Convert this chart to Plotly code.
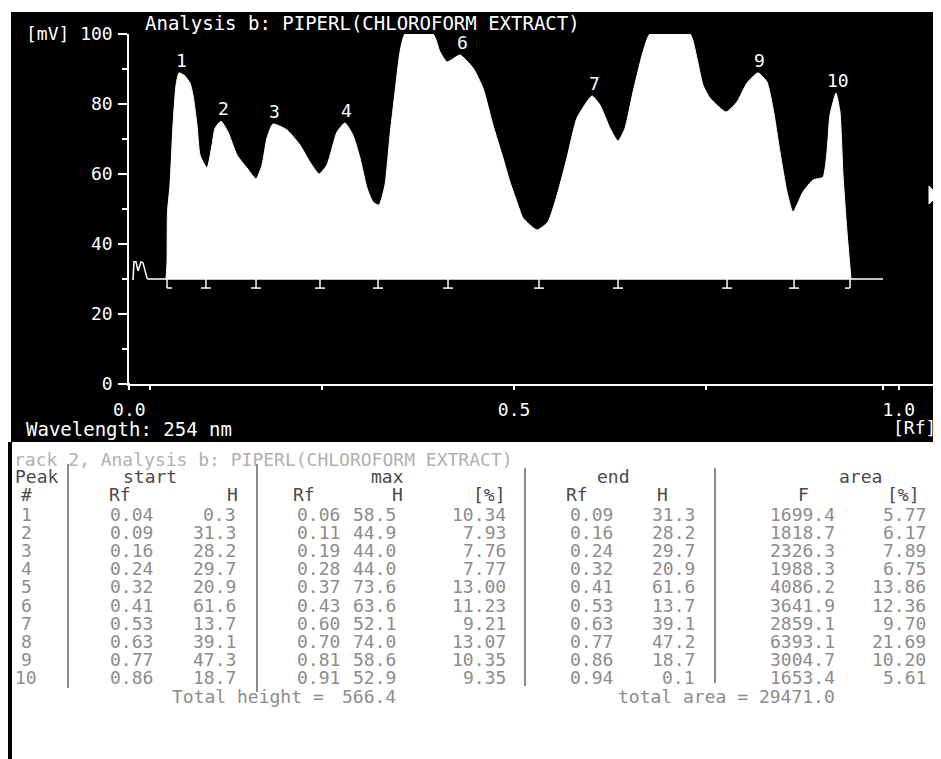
import plotly.graph_objects as go

# page is 941x759; the html body adds an 8px margin, so the figure is 8px smaller
PAGE_W, PAGE_H = 941, 759
OFF = 8
W, H = PAGE_W - OFF, PAGE_H - OFF

# ---------------- chromatogram data ----------------
curve_rf = [0.0477, 0.0490, 0.0496, 0.0529, 0.0568, 0.0607, 0.0646, 0.0724, 0.0789, 0.0828,
            0.0880, 0.0919, 0.1010, 0.1075, 0.1114, 0.1192, 0.1283, 0.1400, 0.1530, 0.1647,
            0.1725, 0.1789, 0.1867, 0.2049, 0.2218, 0.2348, 0.2465, 0.2569, 0.2699, 0.2803,
            0.2907, 0.2998, 0.3089, 0.3167, 0.3245, 0.3323, 0.3388, 0.3453, 0.3518, 0.3583,
            0.3947, 0.4038, 0.4129, 0.4298, 0.4467, 0.4596, 0.4726, 0.4856, 0.4947, 0.5038,
            0.5116, 0.5298, 0.5441, 0.5571, 0.5688, 0.5818, 0.6013, 0.6117, 0.6247, 0.6351,
            0.6442, 0.6546, 0.6676, 0.6767, 0.7286, 0.7377, 0.7455, 0.7546, 0.7754, 0.7897,
            0.8027, 0.8170, 0.8287, 0.8365, 0.8456, 0.8547, 0.8625, 0.8755, 0.8885, 0.9015,
            0.9067, 0.9106, 0.9184, 0.9236, 0.9275, 0.9327, 0.9379]
curve_mv = [30.0, 34.9, 49.1, 56.9, 74.0, 85.4, 88.9, 88.0, 86.0, 82.6,
            74.0, 65.4, 61.7, 68.3, 73.1, 75.1, 72.0, 65.4, 61.7, 58.6,
            62.6, 70.3, 74.3, 72.6, 68.3, 63.4, 60.0, 62.6, 72.0, 74.6,
            71.1, 64.6, 56.0, 52.0, 51.1, 56.9, 71.1, 83.4, 94.9, 100.0,
            100.0, 94.9, 92.0, 94.0, 90.3, 84.6, 74.0, 64.6, 57.7, 52.0,
            47.4, 44.0, 46.3, 54.9, 64.6, 76.0, 82.3, 79.7, 73.1, 69.4,
            73.1, 83.4, 94.9, 100.0, 100.0, 93.1, 85.4, 81.7, 77.7, 80.6,
            86.0, 88.9, 86.3, 78.9, 66.3, 54.9, 49.1, 54.9, 58.3, 59.1,
            66.3, 76.9, 83.1, 77.7, 59.7, 43.4, 30.0]

noise_rf = [0.0048, 0.0061, 0.0087, 0.0113, 0.0152, 0.0178, 0.0230]
noise_mv = [29.7, 34.9, 34.9, 32.3, 34.9, 34.6, 30.3]
baseline_mv = 30.0
baseline_rf = [0.0243, 0.9795]

boundary_rf = [0.0490, 0.0996, 0.1647, 0.2478, 0.3232, 0.4142, 0.5324, 0.6351, 0.7768, 0.8639, 0.9366]

label_peaks = [1, 2, 3, 4, 6, 7, 9, 10]
label_rf = [0.0646, 0.1192, 0.1867, 0.2803, 0.4298, 0.6013, 0.8170, 0.9184]
label_mv = [88.9, 75.1, 74.3, 74.6, 94.0, 82.3, 88.9, 83.1]

y_ticks = [0, 20, 40, 60, 80, 100]
y_minor = [10, 30, 50, 70, 90]
x_ticks = [0.0, 0.5, 1.0]
x_tick_text = ["0.0", "0.5", "1.0"]
x_minor = [0.027, 0.25, 0.75, 0.979]

# ---------------- table data ----------------
peak_no = [1, 2, 3, 4, 5, 6, 7, 8, 9, 10]
start_rf = [0.04, 0.09, 0.16, 0.24, 0.32, 0.41, 0.53, 0.63, 0.77, 0.86]
start_h = [0.3, 31.3, 28.2, 29.7, 20.9, 61.6, 13.7, 39.1, 47.3, 18.7]
max_rf = [0.06, 0.11, 0.19, 0.28, 0.37, 0.43, 0.60, 0.70, 0.81, 0.91]
max_h = [58.5, 44.9, 44.0, 44.0, 73.6, 63.6, 52.1, 74.0, 58.6, 52.9]
max_pct = [10.34, 7.93, 7.76, 7.77, 13.00, 11.23, 9.21, 13.07, 10.35, 9.35]
end_rf = [0.09, 0.16, 0.24, 0.32, 0.41, 0.53, 0.63, 0.77, 0.86, 0.94]
end_h = [31.3, 28.2, 29.7, 20.9, 61.6, 13.7, 39.1, 47.2, 18.7, 0.1]
area_f = [1699.4, 1818.7, 2326.3, 1988.3, 4086.2, 3641.9, 2859.1, 6393.1, 3004.7, 1653.4]
area_pct = [5.77, 6.17, 7.89, 6.75, 13.86, 12.36, 9.70, 21.69, 10.20, 5.61]
total_height = 566.4
total_area = 29471.0


def px(x):
    return (x - OFF) / W


def py(y):
    return 1 - (y - OFF) / H


MONO = "DejaVu Sans Mono"
fig = go.Figure()

# filled peak profile
fig.add_trace(go.Scatter(x=curve_rf, y=curve_mv, mode="lines", fill="toself",
                         fillcolor="white",
                         line=dict(color="white", width=1, shape="spline", smoothing=0.5),
                         hoverinfo="skip", showlegend=False))
# noise + baseline
fig.add_trace(go.Scatter(x=noise_rf + baseline_rf,
                         y=noise_mv + [baseline_mv] * len(baseline_rf),
                         mode="lines", line=dict(color="white", width=1.5),
                         hoverinfo="skip", showlegend=False))
# peak boundary markers
mx, my = [], []
stem = 2.6
half = 0.0065
for i, b in enumerate(boundary_rf):
    left = b if i == 0 else b - half
    right = b if i == len(boundary_rf) - 1 else b + half
    mx += [b, b, None, left, right, None]
    my += [baseline_mv, baseline_mv - stem, None, baseline_mv - stem, baseline_mv - stem, None]
fig.add_trace(go.Scatter(x=mx, y=my, mode="lines", line=dict(color="white", width=1.5),
                         hoverinfo="skip", showlegend=False))

ann = []
for n, xr, ym in zip(label_peaks, label_rf, label_mv):
    ann.append(dict(x=xr, y=ym, xref="x", yref="y", text=str(n), showarrow=False,
                    xshift=2, yshift=0, yanchor="bottom",
                    font=dict(family=MONO, size=18, color="white")))

white_font = dict(family=MONO, size=18, color="white")
ann += [
    dict(x=px(143), y=py(23), xref="paper", yref="paper", xanchor="left", yanchor="middle",
         text="Analysis b: PIPERL(CHLOROFORM EXTRACT)", showarrow=False,
         font=dict(family=MONO, size=19, color="white")),
    dict(x=px(24), y=py(34), xref="paper", yref="paper", xanchor="left", yanchor="middle",
         text="[mV]", showarrow=False, font=white_font),
    dict(x=px(24), y=py(429), xref="paper", yref="paper", xanchor="left", yanchor="middle",
         text="Wavelength: 254 nm", showarrow=False,
         font=dict(family=MONO, size=19, color="white")),
    dict(x=px(938), y=py(427), xref="paper", yref="paper", xanchor="right", yanchor="middle",
         text="[Rf]", showarrow=False, font=white_font),
]

# ---------------- table ----------------
TF = 18
head_col = "#4a4a4a"
data_col = "#8c8c8c"


def t(x, y, s, anchor="right", color=data_col, size=TF):
    ann.append(dict(x=px(x), y=py(y), xref="paper", yref="paper", xanchor=anchor,
                    yanchor="middle", text=s, showarrow=False,
                    font=dict(family=MONO, size=size, color=color)))


t(12, 460, "rack 2, Analysis b: PIPERL(CHLOROFORM EXTRACT)", "left", "#b0b0b0")
t(13, 476, "Peak", "left", head_col)
t(150, 476, "start", "center", head_col)
t(387, 476, "max", "center", head_col)
t(613, 476, "end", "center", head_col)
t(860, 476, "area", "center", head_col)
for x, s in [(26, "#"), (120, "Rf"), (232, "H"), (304, "Rf"), (397, "H"), (489, "[%]"),
             (577, "Rf"), (662, "H"), (803, "F"), (903, "[%]")]:
    t(x, 494, s, "center", head_col)

row0, pitch = 514, 18.2
for i in range(len(peak_no)):
    y = row0 + i * pitch
    t(26, y, str(peak_no[i]), "center")
    t(155, y, f"{start_rf[i]:.2f}")
    t(238, y, f"{start_h[i]:.1f}")
    t(342, y, f"{max_rf[i]:.2f}")
    t(398, y, f"{max_h[i]:.1f}")
    t(508, y, f"{max_pct[i]:.2f}")
    t(615, y, f"{end_rf[i]:.2f}")
    t(697, y, f"{end_h[i]:.1f}")
    t(837, y, f"{area_f[i]:.1f}")
    t(928, y, f"{area_pct[i]:.2f}")
ytot = row0 + len(peak_no) * pitch
t(326, ytot, "Total height =", "right")
t(398, ytot, f"{total_height:.1f}", "right")
t(837, ytot, f"total area = {total_area:.1f}", "right")

shapes = [
    dict(type="rect", xref="paper", yref="paper", x0=px(11), x1=px(941), y0=py(442), y1=py(12),
         fillcolor="black", line=dict(width=0), layer="below"),
    dict(type="rect", xref="paper", yref="paper", x0=px(8), x1=px(12), y0=py(759), y1=py(442),
         fillcolor="black", line=dict(width=0), layer="below"),
    dict(type="line", xref="paper", yref="y", x0=px(120), x1=px(130), y0=0, y1=0,
         line=dict(color="white", width=2)),
    # mouse cursor (arrow pointer)
    dict(type="path", xref="paper", yref="paper",
         path=f"M {px(929)} {py(186)} L {px(929)} {py(204)} L {px(933)} {py(200)} "
              f"L {px(936)} {py(208)} L {px(939)} {py(207)} L {px(936)} {py(199)} "
              f"L {px(941)} {py(199)} Z",
         fillcolor="white", line=dict(color="white", width=1)),
]
for x, y0, y1 in [(68, 464, 688), (257, 464, 692), (525, 468, 686), (715, 468, 683)]:
    shapes.append(dict(type="line", xref="paper", yref="paper", x0=px(x), x1=px(x),
                       y0=py(y0), y1=py(y1), line=dict(color="#666666", width=1.5)))

x_right_rf = (PAGE_W - 129.3) / 769.5
fig.update_layout(
    width=W, height=H, margin=dict(l=0, r=0, t=0, b=0, pad=0, autoexpand=False),
    paper_bgcolor="white", plot_bgcolor="black", showlegend=False,
    xaxis=dict(domain=[px(129.3), 1], range=[0, x_right_rf], automargin=False,
               showgrid=False, zeroline=False, showline=True, linecolor="white", linewidth=2,
               ticks="outside", ticklen=4, tickwidth=1.5, tickcolor="white",
               tickvals=x_ticks, ticktext=x_tick_text, ticklabelstandoff=4,
               tickfont=white_font,
               minor=dict(tickvals=x_minor, ticks="outside", ticklen=4, tickcolor="white",
                          tickwidth=1.5)),
    yaxis=dict(domain=[py(384), py(34)], range=[0, 100], automargin=False,
               showgrid=False, zeroline=False, showline=True, linecolor="white", linewidth=2,
               ticks="outside", ticklen=9, tickwidth=1.5, tickcolor="white",
               tickvals=y_ticks, ticklabelstandoff=2, tickfont=white_font,
               minor=dict(tickvals=y_minor, ticks="outside", ticklen=5, tickcolor="white",
                          tickwidth=1.5)),
    annotations=ann, shapes=shapes,
)

fig.write_html("out.html")
